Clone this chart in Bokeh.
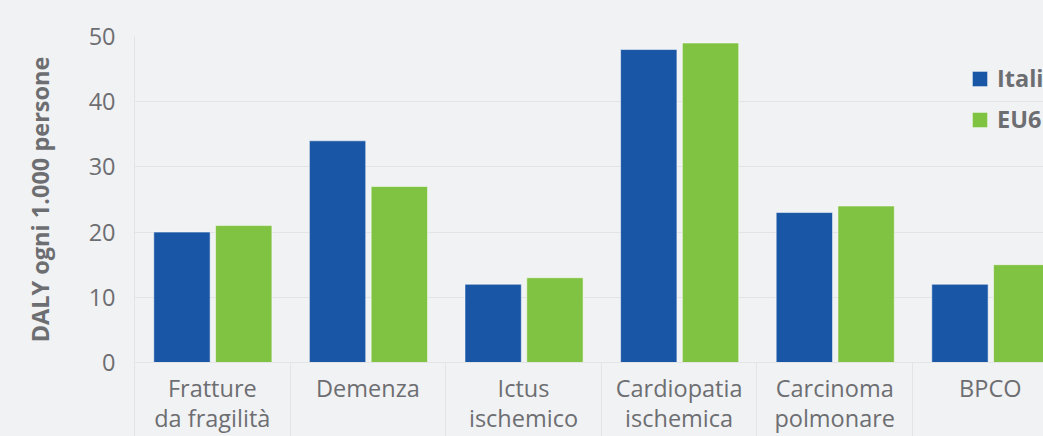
import numpy as np
from bokeh.plotting import figure
from bokeh.models import ColumnDataSource, FixedTicker, Range1d, Legend, LegendItem
from bokeh.transform import dodge
from bokeh.embed import file_html
from bokeh.resources import INLINE

categories = ["Fratture\nda fragilità", "Demenza", "Ictus\nischemico",
              "Cardiopatia\nischemica", "Carcinoma\npolmonare", "BPCO"]
italia = [20, 34, 12, 48, 23, 12]
eu6 = [21, 27, 13, 49, 24, 15]
series_names = ["Italia", "EU6"]
y_ticks = [0, 10, 20, 30, 40, 50]

BG = "#f1f2f4"
GRID = "#e3e4e6"
TEXT = "#6d6e71"
BLUE = "#1a56a6"
GREEN = "#80c242"
FONT = "Open Sans"
FS = "23.5px"

centers = np.arange(len(categories)) + 0.5
bounds = list(np.arange(len(categories) + 1).astype(float))

src = ColumnDataSource(dict(x=centers, italia=italia, eu6=eu6))

p = figure(width=1043, height=436, output_backend="svg", toolbar_location=None,
           x_range=Range1d(0, 909 / 155.6), y_range=Range1d(0, 50),
           min_border_left=134, min_border_right=0, min_border_top=36,
           min_border_bottom=72)
p.background_fill_color = BG
p.border_fill_color = BG
p.outline_line_color = None

r1 = p.vbar(x=dodge("x", -0.195, range=p.x_range), top="italia", width=0.362,
            source=src, fill_color=BLUE, line_color="white", line_alpha=0.5, line_width=1)
r2 = p.vbar(x=dodge("x", 0.202, range=p.x_range), top="eu6", width=0.362,
            source=src, fill_color=GREEN, line_color="white", line_alpha=0.5, line_width=1)

# x axis: labels at category centres, separators as minor ticks at band edges
p.xaxis.ticker = FixedTicker(ticks=list(centers), minor_ticks=bounds)
p.xaxis.major_label_overrides = {float(c): lab for c, lab in zip(centers, categories)}
p.xaxis.major_tick_line_color = None
p.xaxis.minor_tick_out = 90
p.xaxis.minor_tick_in = 0
p.xaxis.minor_tick_line_color = GRID
p.xaxis.axis_line_color = GRID
p.xaxis.major_label_text_font = FONT
p.xaxis.major_label_text_font_size = FS
p.xaxis.major_label_text_color = TEXT
p.xaxis.major_label_standoff = -81
p.xaxis.major_label_text_line_height = 0.95
p.xgrid.grid_line_color = None

# y axis
p.yaxis.ticker = FixedTicker(ticks=y_ticks)
p.yaxis.major_tick_line_color = None
p.yaxis.minor_tick_line_color = None
p.yaxis.axis_line_color = GRID
p.yaxis.major_label_text_font = FONT
p.yaxis.major_label_text_font_size = FS
p.yaxis.major_label_text_color = TEXT
p.yaxis.major_label_text_baseline = "alphabetic"
p.yaxis.major_label_standoff = 13
p.yaxis.axis_label = "DALY ogni 1.000 persone"
p.yaxis.axis_label_text_font = FONT
p.yaxis.axis_label_text_font_size = FS
p.yaxis.axis_label_text_font_style = "bold"
p.yaxis.axis_label_text_color = TEXT
p.yaxis.axis_label_standoff = 30
p.ygrid.grid_line_color = GRID
p.ygrid.grid_line_width = 1

legend = Legend(items=[LegendItem(label=series_names[0], renderers=[r1]),
                       LegendItem(label=series_names[1], renderers=[r2])],
                location=(836, 227), padding=0, margin=0, spacing=9,
                glyph_width=19, glyph_height=19, label_standoff=8,
                background_fill_alpha=0, border_line_color=None,
                label_text_font=FONT, label_text_font_size=FS,
                label_text_font_style="bold", label_text_color=TEXT)
p.add_layout(legend)

html = file_html(p, INLINE)
html = html.replace("<head>", "<head><style>html,body{background:%s;}</style>" % BG, 1)
open("out.html", "w").write(html)
